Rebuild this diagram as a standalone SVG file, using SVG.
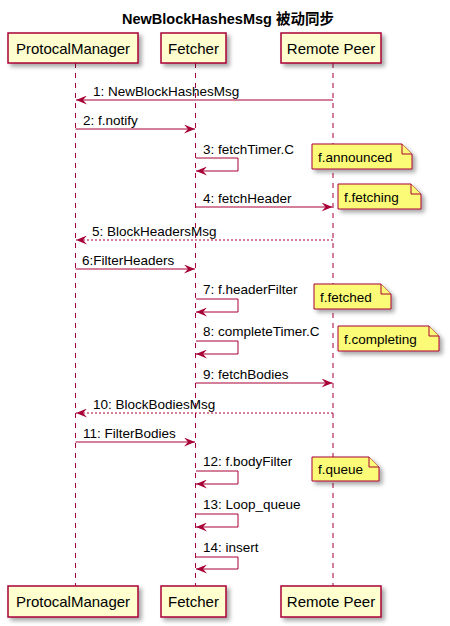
<svg xmlns="http://www.w3.org/2000/svg" width="450" height="626" viewBox="0 0 450 626">
<defs>
<filter id="sh" x="-20%" y="-20%" width="150%" height="160%">
<feDropShadow dx="3" dy="3" stdDeviation="2" flood-color="#000" flood-opacity="0.35"/>
</filter>
<marker id="ah" viewBox="0 0 11 9" refX="11" refY="4.5" markerWidth="11" markerHeight="9" markerUnits="userSpaceOnUse" orient="auto">
<path d="M0,0 L11,4.5 L0,9 L4,4.5 Z" fill="#A80036"/>
</marker>
</defs>
<style>
.box{fill:#FEFECE;stroke:#A80036;stroke-width:1.5}
.note{fill:#FBFB77;stroke:#A80036;stroke-width:1}
.life{stroke:#A80036;stroke-width:1;stroke-dasharray:5,5;fill:none}
.msg{stroke:#A80036;stroke-width:1;fill:none;marker-end:url(#ah)}
.dash{stroke-dasharray:2,2}
text{font-family:"Liberation Sans",Arial,sans-serif;fill:#000}
.pt{font-size:15px;text-anchor:middle}
.mt{font-size:13.5px}
.title{font-size:14.5px;font-weight:bold;text-anchor:middle;font-family:"Liberation Sans","Noto Sans CJK SC",sans-serif}
</style>
<rect width="450" height="626" fill="#fff"/>
<text class="title" x="228" y="24">NewBlockHashesMsg 被动同步</text>

<g id="lifelines">
<line class="life" x1="75.5" y1="63" x2="75.5" y2="586"/>
<line class="life" x1="195.5" y1="63" x2="195.5" y2="586"/>
<line class="life" x1="333" y1="63" x2="333" y2="586"/>
</g>

<g id="pm">
<rect class="box" filter="url(#sh)" x="8" y="33" width="130" height="30"/>
<text class="pt" x="73" y="54">ProtocalManager</text>
<rect class="box" filter="url(#sh)" x="8" y="586" width="130" height="31"/>
<text class="pt" x="73" y="607">ProtocalManager</text>
</g>
<g id="fetcher">
<rect class="box" filter="url(#sh)" x="161" y="33" width="65" height="30"/>
<text class="pt" x="193.5" y="54">Fetcher</text>
<rect class="box" filter="url(#sh)" x="161" y="586" width="65" height="31"/>
<text class="pt" x="193.5" y="607">Fetcher</text>
</g>
<g id="peer">
<rect class="box" filter="url(#sh)" x="281" y="33" width="100" height="30"/>
<text class="pt" x="331" y="54">Remote Peer</text>
<rect class="box" filter="url(#sh)" x="281" y="586" width="100" height="31"/>
<text class="pt" x="331" y="607">Remote Peer</text>
</g>

<g id="notes">
<g id="n-announced"><path class="note" filter="url(#sh)" d="M312,144 H402 L412,154 V169 H312 Z"/><path class="note" d="M402,144 V154 H412"/><text class="mt" x="318" y="162">f.announced</text></g>
<g id="n-fetching"><path class="note" filter="url(#sh)" d="M338,184 H411 L421,194 V209 H338 Z"/><path class="note" d="M411,184 V194 H421"/><text class="mt" x="344" y="202">f.fetching</text></g>
<g id="n-fetched"><path class="note" filter="url(#sh)" d="M314,284 H381 L391,294 V309 H314 Z"/><path class="note" d="M381,284 V294 H391"/><text class="mt" x="320" y="302">f.fetched</text></g>
<g id="n-completing"><path class="note" filter="url(#sh)" d="M338,326 H429 L439,336 V351 H338 Z"/><path class="note" d="M429,326 V336 H439"/><text class="mt" x="344" y="344">f.completing</text></g>
<g id="n-queue"><path class="note" filter="url(#sh)" d="M312,457 H369 L379,467 V481 H312 Z"/><path class="note" d="M369,457 V467 H379"/><text class="mt" x="318" y="474">f.queue</text></g>
</g>

<g id="connectors">
<line class="msg" x1="333" y1="100" x2="76" y2="100"/>
<text class="mt" x="93" y="96">1: NewBlockHashesMsg</text>
<line class="msg" x1="75.5" y1="129" x2="195" y2="129"/>
<text class="mt" x="83" y="125">2: f.notify</text>
<path class="msg" d="M196,158 H238 V171 H196"/>
<text class="mt" x="203" y="154">3: fetchTimer.C</text>
<line class="msg" x1="195.5" y1="207" x2="332.5" y2="207"/>
<text class="mt" x="203" y="203">4: fetchHeader</text>
<line class="msg dash" x1="333" y1="240" x2="76" y2="240"/>
<text class="mt" x="92" y="236">5: BlockHeadersMsg</text>
<line class="msg" x1="75.5" y1="269" x2="195" y2="269"/>
<text class="mt" x="82" y="265">6:FilterHeaders</text>
<path class="msg" d="M196,299 H238 V312 H196"/>
<text class="mt" x="203" y="294">7: f.headerFilter</text>
<path class="msg" d="M196,341 H238 V354 H196"/>
<text class="mt" x="203" y="336">8: completeTimer.C</text>
<line class="msg" x1="195.5" y1="383" x2="332.5" y2="383"/>
<text class="mt" x="203" y="379">9: fetchBodies</text>
<line class="msg dash" x1="333" y1="413" x2="76" y2="413"/>
<text class="mt" x="93" y="409">10: BlockBodiesMsg</text>
<line class="msg" x1="75.5" y1="442" x2="195" y2="442"/>
<text class="mt" x="83" y="438">11: FilterBodies</text>
<path class="msg" d="M196,471 H238 V484 H196"/>
<text class="mt" x="203" y="466">12: f.bodyFilter</text>
<path class="msg" d="M196,514 H238 V527 H196"/>
<text class="mt" x="203" y="509">13: Loop_queue</text>
<path class="msg" d="M196,557 H238 V569 H196"/>
<text class="mt" x="203" y="552">14: insert</text>
</g>
</svg>
